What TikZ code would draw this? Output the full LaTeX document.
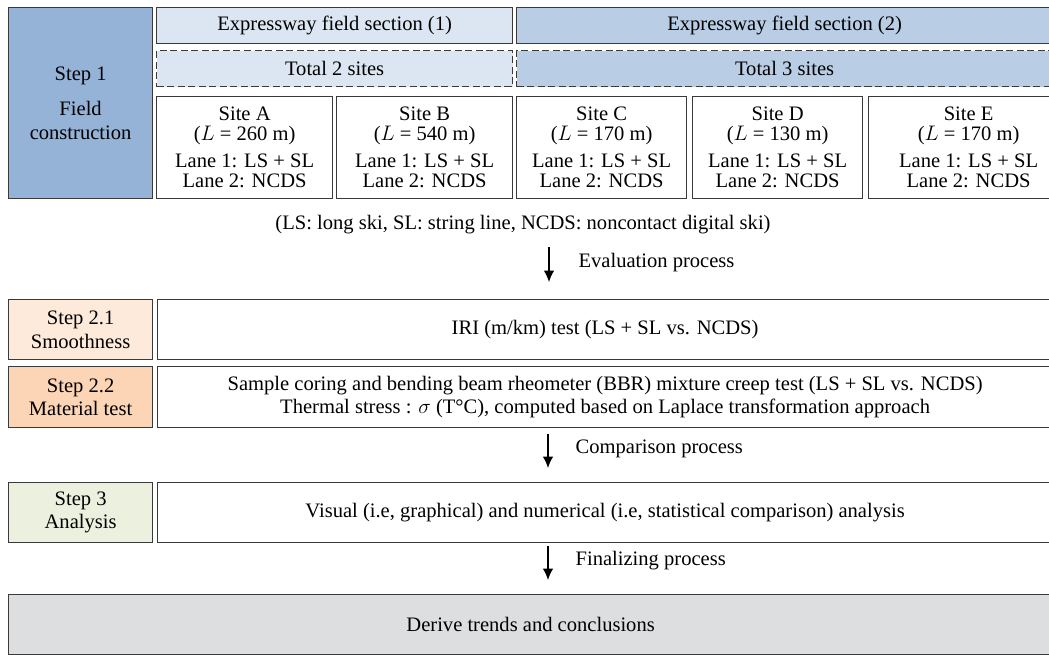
\documentclass[tikz,border=0pt]{standalone}
\usepackage{fontspec}
\setmainfont{Liberation Serif}
\usetikzlibrary{positioning,arrows.meta}
\definecolor{linegray}{HTML}{3A3A3A}
\definecolor{stepblue}{HTML}{95B3D7}
\definecolor{secone}{HTML}{DCE6F2}
\definecolor{sectwo}{HTML}{B9CDE5}
\definecolor{smoothfill}{HTML}{FDEADA}
\definecolor{materialfill}{HTML}{FBD5B5}
\definecolor{analysisfill}{HTML}{EBF1DE}
\definecolor{finalfill}{HTML}{DDDEE0}
\begin{document}
\begin{tikzpicture}[x=0.02cm,y=-0.02cm,>={Latex[length=6.5pt,width=6pt]},
  box/.style={draw=linegray,line width=0.7pt,inner sep=0pt,anchor=north west,
    align=center,font=\fontsize{11.7}{13.4}\selectfont},
  size/.style 2 args={minimum width=#1*0.02cm,minimum height=#2*0.02cm},
  dashbox/.style={box,dash pattern=on 4pt off 2pt},
  sitebox/.style={box,font=\fontsize{11.7}{11.4}\selectfont},
  flowlabel/.style={midway,anchor=west,inner sep=0pt,yshift=0.04cm,font=\fontsize{11.7}{13.4}\selectfont},
  flow/.style={->,line width=0.7pt,draw=black}]
\useasboundingbox (0,0) rectangle (1049,655);
\clip (0,0) rectangle (1049,655);
%%step 1
\node[box,fill=stepblue,size={144}{191}] (step1) at (8,7)
  {Step 1\\[7pt]Field\\construction};
%sections
\node[box,fill=secone,size={356}{36}] (sec1) at (156,7) {Expressway field section (1)};
\node[box,fill=sectwo,size={536}{36}] (sec2) at (516,7) {Expressway field section (2)};
\node[dashbox,fill=secone,size={356}{36}] (tot2) at (156,50) {Total 2 sites};
\node[dashbox,fill=sectwo,size={536}{36}] (tot3) at (516,50) {Total 3 sites};
%sites
\node[sitebox,size={176}{102}] (siteA) at (156,96)
  {Site A\\($L$ = 260 m)\\[4pt]Lane 1: LS + SL\\Lane 2: NCDS};
\node[sitebox,size={176}{102}] (siteB) at (336,96)
  {Site B\\($L$ = 540 m)\\[4pt]Lane 1: LS + SL\\Lane 2: NCDS};
\node[sitebox,size={170}{102}] (siteC) at (516,96)
  {Site C\\($L$ = 170 m)\\[4pt]Lane 1: LS + SL\\Lane 2: NCDS};
\node[sitebox,size={170}{102}] (siteD) at (692,96)
  {Site D\\($L$ = 130 m)\\[4pt]Lane 1: LS + SL\\Lane 2: NCDS};
\node[sitebox,size={200}{102}] (siteE) at (868,96)
  {Site E\\($L$ = 170 m)\\[4pt]Lane 1: LS + SL\\Lane 2: NCDS};
\node[font=\fontsize{11.7}{13.4}\selectfont,inner sep=0pt] (abbr) at (523,225)
  {(LS: long ski, SL: string line, NCDS: noncontact digital ski)};
%evaluation
\coordinate (eva1) at (549,247);
\coordinate (eva2) at (549,282);
\draw[flow] (eva1) -- (eva2)
  node[flowlabel,xshift=0.58cm] (evalabel) {Evaluation process};
%%step 2
\node[box,fill=smoothfill,size={144}{60}] (step21) at (8,299) {Step 2.1\\Smoothness};
\node[box,size={895}{60}] (iri) at (157,299) {IRI (m/km) test (LS + SL vs. NCDS)};
\node[box,fill=materialfill,size={144}{61}] (step22) at (8,366) {Step 2.2\\Material test};
\node[box,size={895}{61}] (bbr) at (157,366)
  {Sample coring and bending beam rheometer (BBR) mixture creep test (LS + SL vs. NCDS)\\
   Thermal stress : $\sigma$ (T°C), computed based on Laplace transformation approach};
%comparison
\coordinate (cmp1) at (548,434);
\coordinate (cmp2) at (548,468);
\draw[flow] (cmp1) -- (cmp2)
  node[flowlabel,xshift=0.54cm] (cmplabel) {Comparison process};
%%step 3
\node[box,fill=analysisfill,size={144}{60}] (step3) at (8,482) {Step 3\\Analysis};
\node[box,size={895}{60}] (ana) at (157,482)
  {Visual (i.e, graphical) and numerical (i.e, statistical comparison) analysis};
%finalizing
\coordinate (fin1) at (548,546);
\coordinate (fin2) at (548,580);
\draw[flow] (fin1) -- (fin2)
  node[flowlabel,xshift=0.54cm] (finlabel) {Finalizing process};
\node[box,fill=finalfill,size={1044}{60}] (final) at (8,594) {Derive trends and conclusions};
\end{tikzpicture}
\end{document}
